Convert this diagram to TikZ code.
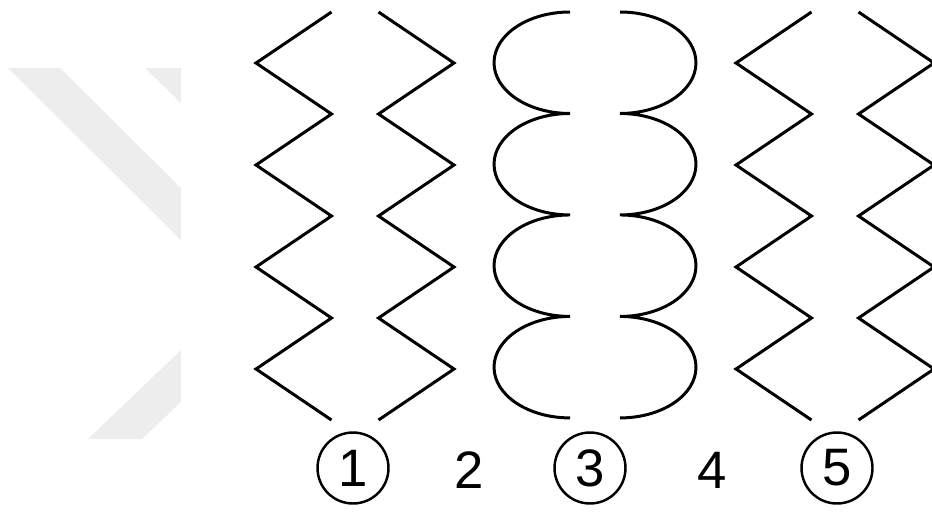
\documentclass[tikz,border=0pt]{standalone}
\usepackage{fontspec}
\setmainfont{Liberation Sans}
\usepackage{tikz}
\usetikzlibrary{positioning}

\begin{document}
\begin{tikzpicture}[x=0.02cm, y=0.02cm]
 \useasboundingbox (0,0) rectangle (932,-511);
 % faint mark on the left
 \begin{scope}[every path/.style={fill=black!7, draw=none}]
   \path (8,-68) -- (60,-68) -- (181,-188) -- (181,-240) -- cycle;
   \path (145,-68) -- (181,-68) -- (181,-103) -- cycle;
   \path (88,-439) -- (142,-439) -- (181,-402) -- (181,-350) -- cycle;
 \end{scope}
 \begin{scope}[line width=1.7pt, line join=miter]
   % zigzag pairs
   \foreach \cx in {355,835}{
     \draw (\cx-23.5,-12) \foreach \k in {1,...,8}{ -- ({\cx-23.5-75.5*mod(\k,2)},{-12-51*\k}) };
     \draw (\cx+23.5,-12) \foreach \k in {1,...,8}{ -- ({\cx+23.5+75.5*mod(\k,2)},{-12-51*\k}) };
   }
   % arc pair
   \draw (570,-12) \foreach \k in {1,...,4}{ arc[start angle=90, end angle=270, x radius=1.52cm, y radius=1.015cm] };
   \draw (620,-12) \foreach \k in {1,...,4}{ arc[start angle=90, end angle=-90, x radius=1.52cm, y radius=1.015cm] };
 \end{scope}
 \begin{scope}[every node/.style={font=\fontsize{30}{36}\selectfont, inner sep=0pt}]
   \node (c1) [circle, draw, line width=1.4pt, minimum size=1.42cm] at (353,-468) {1};
   \node (n2) at (469,-470) {2};
   \node (c3) [circle, draw, line width=1.4pt, minimum size=1.42cm] at (590,-468) {3};
   \node (n4) at (712,-470) {4};
   \node (c5) [circle, draw, line width=1.4pt, minimum size=1.42cm] at (837,-468) {5};
 \end{scope}
\end{tikzpicture}
\end{document}
